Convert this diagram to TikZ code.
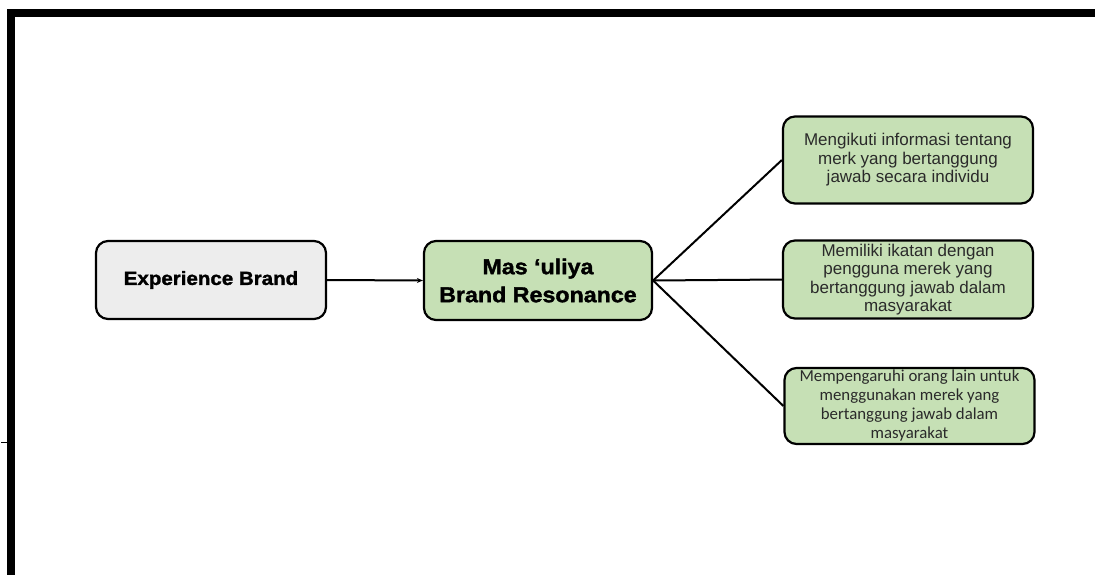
\documentclass[tikz,border=0pt]{standalone}
\usepackage{fontspec}
\setmainfont{Liberation Sans}
\newfontfamily\heavy{Liberation Sans}[BoldFeatures={FakeStretch=1.08,FakeBold=1.6}]
\newfontfamily\calib{Carlito}
\usetikzlibrary{arrows.meta}
\definecolor{boxgreen}{HTML}{C6E0B5}
\definecolor{boxgrey}{HTML}{EDEDED}
\definecolor{inktext}{HTML}{2A2A2A}
\tikzset{
  card/.style={draw=black, line width=2.2pt, rounded corners=12pt, align=center, inner sep=2pt},
  mainbox/.style={card, font=\heavy\bfseries\fontsize{19}{26}\selectfont},
  subbox/.style={card, fill=boxgreen, text=inktext, font=\fontsize{17}{18.5}\selectfont,
    minimum width=250pt},
  link/.style={line width=2pt, draw=black}
}
\begin{document}
\begin{tikzpicture}[x=1pt, y=-1pt]
  \useasboundingbox (0,0) rectangle (1095,575);
  % page frame: heavy rules along the top and left edges
  \draw[line width=8pt] (11,575) -- (11,13) -- (1095,13);
  \draw[line width=1pt] (1,442) -- (7,442);

  \node[mainbox, fill=boxgrey, minimum width=230pt, minimum height=78pt] (exp) at (211,280)
    {Experience Brand};
  \node[mainbox, fill=boxgreen, minimum width=228pt, minimum height=79pt,
        font=\heavy\bfseries\fontsize{21.5}{28}\selectfont] (res) at (538,280.5)
    {Mas ‘uliya\\Brand Resonance};

  \node[subbox, minimum height=87pt] (s1) at (908,160)
    {Mengikuti informasi tentang\\merk yang bertanggung\\jawab secara individu};
  \node[subbox, minimum height=78pt] (s2) at (908,279.5)
    {Memiliki ikatan dengan\\pengguna merek yang\\bertanggung jawab dalam\\masyarakat};
  \node[subbox, minimum height=76pt, font=\calib\fontsize{16.8}{19}\selectfont] (s3) at (909.5,406)
    {Mempengaruhi orang lain untuk\\menggunakan merek yang\\bertanggung jawab dalam\\masyarakat};

  \draw[link, -{Stealth[length=6pt, width=5pt]}] (exp.east) -- (res.west);
  \draw[link] (res.east) -- (s1.west);
  \draw[link] (res.east) -- (s2.west);
  \draw[link] (res.east) -- (s3.west);
\end{tikzpicture}
\end{document}
